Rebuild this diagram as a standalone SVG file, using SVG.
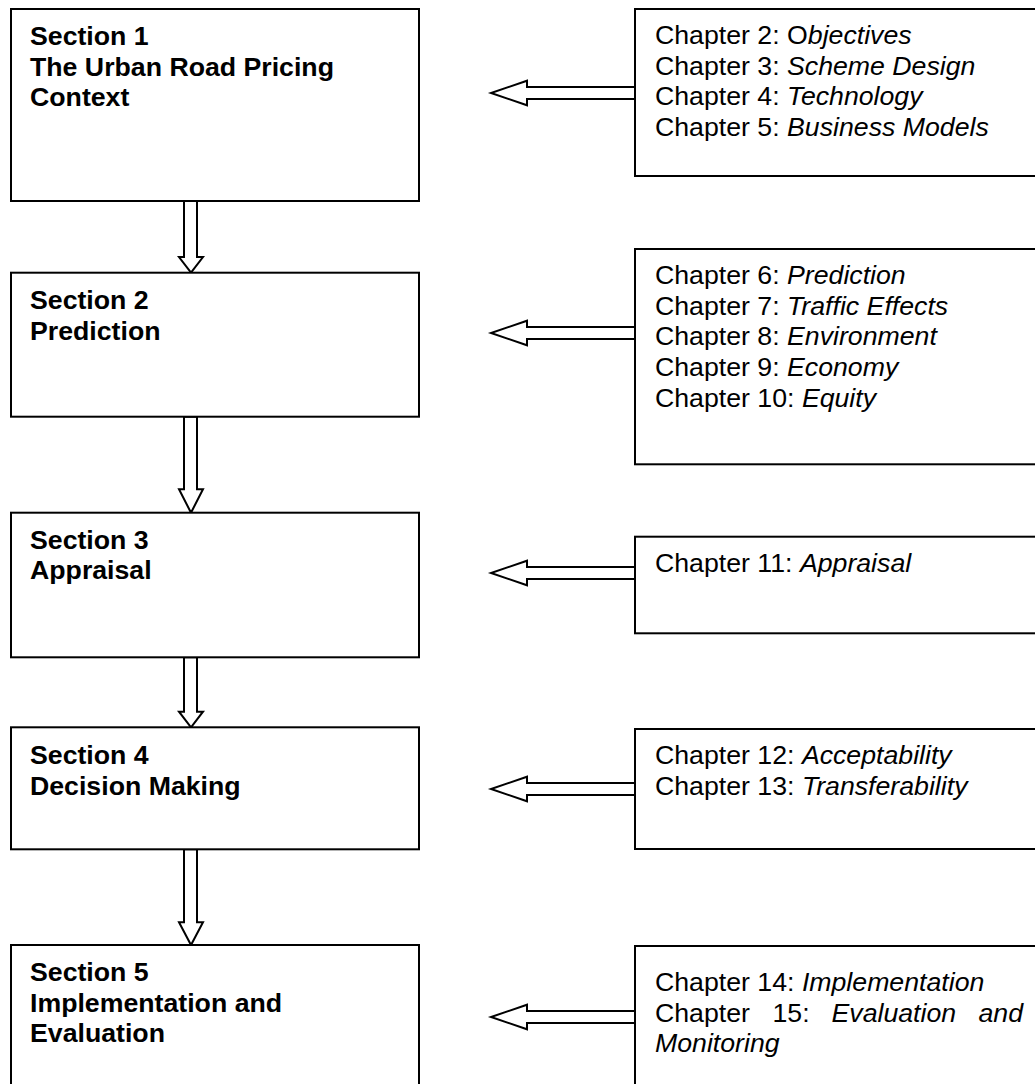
<svg xmlns="http://www.w3.org/2000/svg" width="1035" height="1084" viewBox="0 0 1035 1084">
<style>
.box{fill:#fff;stroke:#000;stroke-width:2}
.arr{fill:#fff;stroke:#000;stroke-width:2;stroke-linejoin:miter}
.sec{font-family:"Liberation Sans",Arial,sans-serif;font-size:26.7px;font-weight:bold;fill:#000}
.ch{font-family:"Liberation Sans",Arial,sans-serif;font-size:26.7px;fill:#000}
.it{font-style:italic}
</style>
<rect width="1035" height="1084" fill="#fff"/>
<g id="connectors">
<polygon class="arr" points="184,201 197,201 197,257 203,257 191,272.7 179,257 184,257"/>
<polygon class="arr" points="184,416.7 197,416.7 197,489.3 203,489.3 191,512.7 179,489.3 184,489.3"/>
<polygon class="arr" points="184,657.3 197,657.3 197,711.7 203,711.7 191,727.3 179,711.7 184,711.7"/>
<polygon class="arr" points="184,849.3 197,849.3 197,922.3 203,922.3 191,945 179,922.3 184,922.3"/>
<polygon class="arr" points="635,87 527,87 527,80.7 491,93 527,105.3 527,99 635,99"/>
<polygon class="arr" points="635,327 527,327 527,320.7 491,333 527,345.3 527,339 635,339"/>
<polygon class="arr" points="635,567 527,567 527,560.7 491,573 527,585.3 527,579 635,579"/>
<polygon class="arr" points="635,783 527,783 527,776.7 491,789 527,801.3 527,795 635,795"/>
<polygon class="arr" points="635,1011 527,1011 527,1004.7 491,1017 527,1029.3 527,1023 635,1023"/>
</g>
<g id="section1">
<rect class="box" x="11" y="9" width="408" height="192"/>
<text class="sec" x="30" y="45">Section 1</text>
<text class="sec" x="30" y="75.7">The Urban Road Pricing</text>
<text class="sec" x="30" y="106.4">Context</text>
</g>
<g id="section2">
<rect class="box" x="11" y="272.7" width="408" height="144"/>
<text class="sec" x="30" y="309">Section 2</text>
<text class="sec" x="30" y="339.7">Prediction</text>
</g>
<g id="section3">
<rect class="box" x="11" y="512.7" width="408" height="144.6"/>
<text class="sec" x="30" y="548.5">Section 3</text>
<text class="sec" x="30" y="579.2">Appraisal</text>
</g>
<g id="section4">
<rect class="box" x="11" y="727.3" width="408" height="122"/>
<text class="sec" x="30" y="764">Section 4</text>
<text class="sec" x="30" y="794.7">Decision Making</text>
</g>
<g id="section5">
<rect class="box" x="11" y="945" width="408" height="160"/>
<text class="sec" x="30" y="981">Section 5</text>
<text class="sec" x="30" y="1011.7">Implementation and</text>
<text class="sec" x="30" y="1042.4">Evaluation</text>
</g>
<g id="chaptersA">
<rect class="box" x="635" y="9" width="420" height="167"/>
<text class="ch" x="655" y="44">Chapter 2: O<tspan class="it">bjectives</tspan></text>
<text class="ch" x="655" y="74.7">Chapter 3: <tspan class="it">Scheme Design</tspan></text>
<text class="ch" x="655" y="105.4">Chapter 4: <tspan class="it">Technology</tspan></text>
<text class="ch" x="655" y="136.1">Chapter 5: <tspan class="it">Business Models</tspan></text>
</g>
<g id="chaptersB">
<rect class="box" x="635" y="249" width="420" height="215.3"/>
<text class="ch" x="655" y="284">Chapter 6: <tspan class="it">Prediction</tspan></text>
<text class="ch" x="655" y="314.7">Chapter 7: <tspan class="it">Traffic Effects</tspan></text>
<text class="ch" x="655" y="345.4">Chapter 8: <tspan class="it">Environment</tspan></text>
<text class="ch" x="655" y="376.1">Chapter 9: <tspan class="it">Economy</tspan></text>
<text class="ch" x="655" y="406.8">Chapter 10: <tspan class="it">Equity</tspan></text>
</g>
<g id="chaptersC">
<rect class="box" x="635" y="536.7" width="420" height="96.6"/>
<text class="ch" x="655" y="571.7">Chapter 11: <tspan class="it">Appraisal</tspan></text>
</g>
<g id="chaptersD">
<rect class="box" x="635" y="729" width="420" height="120"/>
<text class="ch" x="655" y="764">Chapter 12: <tspan class="it">Acceptability</tspan></text>
<text class="ch" x="655" y="794.7">Chapter 13: <tspan class="it">Transferability</tspan></text>
</g>
<g id="chaptersE">
<rect class="box" x="635" y="946" width="420" height="160"/>
<text class="ch" x="655" y="991">Chapter 14: <tspan class="it">Implementation</tspan></text>
<text class="ch" y="1021.7"><tspan x="655">Chapter</tspan><tspan x="772.5">15:</tspan><tspan class="it" x="831.5">Evaluation</tspan><tspan class="it" x="978.5">and</tspan></text>
<text class="ch it" x="655" y="1052.4">Monitoring</text>
</g>
</svg>
